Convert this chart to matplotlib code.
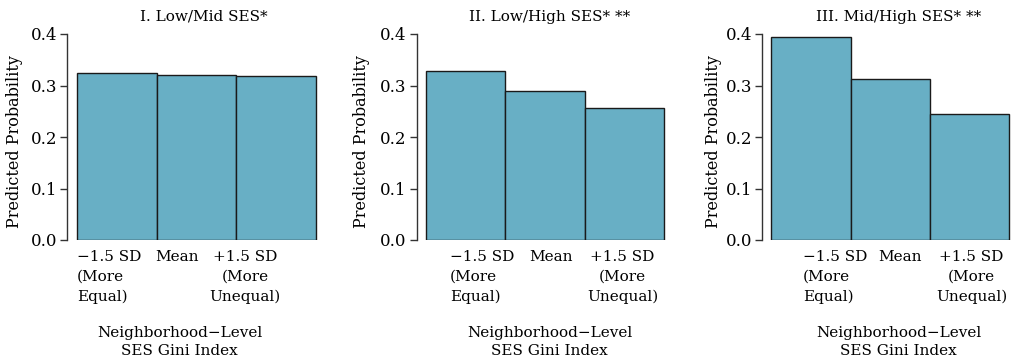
import matplotlib.pyplot as plt

# data
categories = ["\u22121.5 SD\n(More\nEqual)", "Mean", "+1.5 SD\n(More\nUnequal)"]
titles = ["I. Low/Mid SES*", "II. Low/High SES* **", "III. Mid/High SES* **"]
low_mid = [0.324, 0.321, 0.318]
low_high = [0.328, 0.290, 0.256]
mid_high = [0.395, 0.313, 0.245]
yticks = [0.0, 0.1, 0.2, 0.3, 0.4]
ytick_labels = ["0.0", "0.1", "0.2", "0.3", "0.4"]
series = [low_mid, low_high, mid_high]

plt.rcParams['font.family'] = ['DejaVu Serif']
W, H = 1016, 362
fig = plt.figure(figsize=(W / 100, H / 100), dpi=100)

# layout per panel (pixels): axis x, bar unit width
axis_x = [67.4, 416.5, 762.0]
unit = [79.7, 79.3, 79.1]
label_x = [(0.0, 1.25, 2.11), (0.30, 1.58, 2.48), (0.40, 1.63, 2.53)]
title_x = [1.59, 1.56, 1.61]
xlab_x = [1.29, 1.56, 1.61]
ylab_px = [15, 362, 713]
top_px, bot_px = 34, 240
fs = 11

for i, vals in enumerate(series):
    w = unit[i] * 3.24
    ax = fig.add_axes([axis_x[i] / W, (H - bot_px) / H, w / W, (bot_px - top_px) / H])
    ax.bar(range(len(vals)), vals, width=1.0, align='edge',
           color='#68AFC5', edgecolor='#1a1a1a', linewidth=1.0)
    ax.set_xlim(-0.12, 3.12)
    ax.set_ylim(0, 0.4)
    for s in ['top', 'right', 'bottom']:
        ax.spines[s].set_visible(False)
    ax.spines['left'].set_color('#333333')
    ax.spines['left'].set_linewidth(1.0)
    ax.set_xticks([])
    ax.set_yticks(yticks)
    ax.set_yticklabels(ytick_labels, fontsize=12)
    ax.tick_params(axis='y', length=5, width=1.0, pad=2, color='#333333')

    has = ['left', 'center', 'center']
    for j, lab in enumerate(categories):
        ax.annotate(lab, xy=(label_x[i][j], H - 250), xycoords=('data', 'figure pixels'),
                    ha=has[j], va='top', multialignment=has[j],
                    fontsize=fs, linespacing=1.5, annotation_clip=False)
    ax.annotate(titles[i], xy=(title_x[i], H - 17), xycoords=('data', 'figure pixels'),
                ha='center', va='center', fontsize=fs, annotation_clip=False)
    ax.annotate("Neighborhood\u2212Level\nSES Gini Index", xy=(xlab_x[i], H - 342),
                xycoords=('data', 'figure pixels'), ha='center', va='center',
                fontsize=fs, linespacing=1.3, annotation_clip=False)
    fig.text(ylab_px[i] / W, (H - 142) / H, "Predicted Probability", rotation=90,
             ha='center', va='center', fontsize=fs + 0.5)

fig.savefig('out.png', dpi=100)
